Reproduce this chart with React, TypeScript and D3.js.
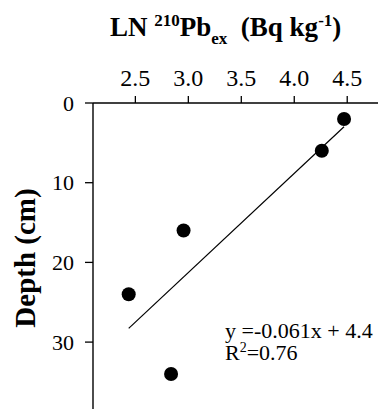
import React from "react";
import * as d3 from "d3";

// LN 210Pb excess vs depth
const depths = [2, 6, 16, 24, 34];
const lnPb = [4.47, 4.26, 2.955, 2.437, 2.837];
const xTicks = [2.5, 3.0, 3.5, 4.0, 4.5];
const yTicks = [0, 10, 20, 30];
const eqLines = ["y =-0.061x + 4.4", "0.76"];

const W = 378;
const H = 409;
const font = "Liberation Serif";

export default function App() {
  const x = d3.scaleLinear().domain([2.1, 4.8]).range([93, 379]);
  const y = d3.scaleLinear().domain([0, 40]).range([103, 421.8]);

  const pts = depths.map((d, i) => ({ depth: d, ln: lnPb[i] }));

  // least squares fit of depth on LN, drawn over the LN range
  const mx = d3.mean(pts, p => p.ln) as number;
  const my = d3.mean(pts, p => p.depth) as number;
  const sxy = d3.sum(pts, p => (p.ln - mx) * (p.depth - my));
  const sxx = d3.sum(pts, p => (p.ln - mx) ** 2);
  const slope = sxy / sxx;
  const [lo, hi] = d3.extent(lnPb) as [number, number];
  const fit = (v: number) => my + slope * (v - mx);
  const line = d3
    .line<number>()
    .x(v => x(v))
    .y(v => y(fit(v)));

  const top = y(0);
  const left = x(2.1);

  return (
    <svg
      width={W}
      height={H}
      style={{ position: "absolute", left: 0, top: 0, background: "#fff", fontFamily: font }}
    >
      {/* title */}
      <text x={110} y={36} fontSize={27} fontWeight="bold" fill="#000">
        LN{" "}
        <tspan fontSize={17} dy={-10}>
          210
        </tspan>
        <tspan dy={10}>Pb</tspan>
        <tspan fontSize={17} dy={8}>
          ex
        </tspan>
        <tspan dy={-8}>{"\u00a0 (Bq kg"}</tspan>
        <tspan fontSize={17} dy={-10}>
          -1
        </tspan>
        <tspan dy={10}>)</tspan>
      </text>

      {/* top x axis */}
      <line x1={left} x2={W} y1={top} y2={top} stroke="#000" strokeWidth={1.4} />
      {xTicks.map(t => (
        <g key={`x${t}`}>
          <line x1={x(t)} x2={x(t)} y1={top} y2={top - 7} stroke="#000" strokeWidth={1.3} />
          <text x={x(t)} y={86} textAnchor="middle" fontSize={24} fill="#000">
            {t.toFixed(1)}
          </text>
        </g>
      ))}

      {/* left y axis */}
      <line x1={left} x2={left} y1={top} y2={H} stroke="#000" strokeWidth={1.4} />
      {yTicks.map(t => (
        <g key={`y${t}`}>
          <line x1={left - 8} x2={left} y1={y(t)} y2={y(t)} stroke="#000" strokeWidth={1.3} />
          <text x={74} y={y(t) + 7.5} textAnchor="end" fontSize={22} fill="#000">
            {t}
          </text>
        </g>
      ))}
      <text
        transform={`translate(35,258) rotate(-90)`}
        textAnchor="middle"
        fontSize={29}
        fontWeight="bold"
        fill="#000"
      >
        Depth (cm)
      </text>

      {/* regression line */}
      <path d={line([lo, hi]) as string} fill="none" stroke="#000" strokeWidth={1.2} />

      {/* points */}
      {pts.map((p, i) => (
        <circle key={i} cx={x(p.ln)} cy={y(p.depth)} r={7} fill="#000" />
      ))}

      {/* equation */}
      <text x={225} y={338} fontSize={22} fill="#000">
        <tspan>{eqLines[0]}</tspan>
        <tspan x={225} dy={22}>R</tspan>
        <tspan fontSize={14} dy={-8}>
          2
        </tspan>
        <tspan dy={8}>={eqLines[1]}</tspan>
      </text>
    </svg>
  );
}
